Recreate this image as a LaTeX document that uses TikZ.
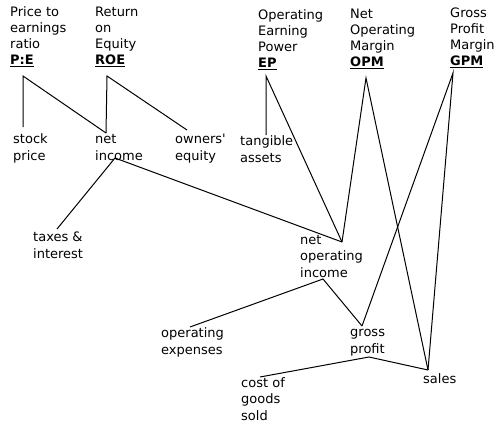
\documentclass[tikz,border=0pt]{standalone}
\usepackage{fontspec}
\setmainfont{DejaVu Sans}
\begin{document}
\begin{tikzpicture}[x=1pt,y=-1pt,
  lbl/.style={anchor=base west,align=left,inner sep=0pt,font=\fontsize{13}{16.2}\selectfont},
  link/.style={line width=1pt,line join=miter}]
\useasboundingbox[fill=white] (0,0) rectangle (500,425);
% text blocks (anchored at the baseline of their last line)
\node[lbl] (PE)  at (10,65)  {Price to\\earnings\\ratio\\\underline{\textbf{P:E}}};
\node[lbl] (ROE) at (95,65)  {Return\\on\\Equity\\\underline{\textbf{ROE}}};
\node[lbl] (EP)  at (258,68) {Operating\\Earning\\Power\\\underline{\textbf{EP}}};
\node[lbl] (OPM) at (350,67) {Net\\Operating\\Margin\\\underline{\textbf{OPM}}};
\node[lbl] (GPM) at (450,66) {Gross\\Profit\\Margin\\\underline{\textbf{GPM}}};
\node[lbl] (SP)  at (13,160)  {stock\\price};
\node[lbl] (NI)  at (95,160)  {net\\income};
\node[lbl] (OE)  at (175,160) {owners\textquotesingle\\equity};
\node[lbl] (TA)  at (240,162) {tangible\\assets};
\node[lbl] (TI)  at (33,258)  {taxes \&\\interest};
\node[lbl] (NOI) at (300,277) {net\\operating\\income};
\node[lbl] (OX)  at (161,354) {operating\\expenses};
\node[lbl] (GP)  at (350,353) {gross\\profit};
\node[lbl] (CGS) at (241,420) {cost of\\goods\\sold};
\node[lbl] (SA)  at (423,383) {sales};
% attachment points
\coordinate (PE-b)  at (23,76);
\coordinate (ROE-b) at (107,76);
\coordinate (EP-b)  at (266,76);
\coordinate (OPM-b) at (366,78);
\coordinate (GPM-b) at (453,73);
\coordinate (SP-t)  at (23,127);
\coordinate (NI-t)  at (106,133);
\coordinate (NI-b)  at (115,158);
\coordinate (OE-t)  at (187,130);
\coordinate (TA-t)  at (266,135);
\coordinate (TI-t)  at (57,229);
\coordinate (NOI-t) at (342,242);
\coordinate (NOI-b) at (323,279);
\coordinate (OX-t)  at (190,327);
\coordinate (GP-t)  at (362,326);
\coordinate (GP-b)  at (369,357);
\coordinate (CGS-t) at (260,377);
\coordinate (SA-t)  at (428,370);
% connectors
\draw[link] (SP-t) -- (PE-b) -- (NI-t);
\draw[link] (NI-t) -- (ROE-b) -- (OE-t);
\draw[link] (TI-t) -- (NI-b) -- (NOI-t);
\draw[link] (TA-t) -- (EP-b) -- (NOI-t);
\draw[link] (NOI-t) -- (OPM-b) -- (SA-t);
\draw[link] (GP-t) -- (GPM-b) -- (SA-t);
\draw[link] (OX-t) -- (NOI-b) -- (GP-t);
\draw[link] (CGS-t) -- (GP-b) -- (SA-t);
\end{tikzpicture}
\end{document}
